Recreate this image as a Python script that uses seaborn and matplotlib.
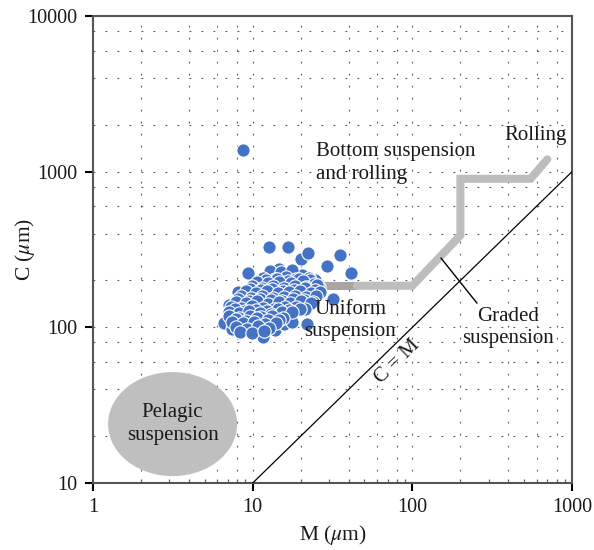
import numpy as np
import pandas as pd
import matplotlib
matplotlib.use("Agg")
import matplotlib.pyplot as plt
from matplotlib.ticker import LogLocator, NullLocator, FixedLocator, FixedFormatter
import seaborn as sns

# Grain-size samples: median (M) and one-percentile coarsest (C), in micrometres
m_um = [
    8.7, 12.6, 16.6, 20.0, 22.2, 29.0, 35.0, 41.0, 9.4, 8.1, 6.6, 11.6, 21.8, 32.0, 7.1, 24.5, 23.5,
    13.1, 15.3, 17.6, 14.6, 7.4, 13.8, 15.7, 17.6, 23.5, 26.0, 20.3,
    12.9, 15.1, 17.6,
    11.6, 13.8, 16.1, 18.8, 22.5,
    12.1, 14.2, 16.6, 19.5, 22.8,
    10.6, 12.5, 14.6, 17.3, 20.7, 24.1,
    9.9, 11.4, 13.4, 15.7, 18.4, 21.5, 25.2,
    9.6, 11.3, 13.2, 15.5, 18.1, 21.2, 24.5,
    9.1, 10.5, 12.3, 14.4, 16.8, 19.8, 23.1, 26.4,
    8.45, 9.75, 11.4, 13.4, 15.7, 18.4, 21.5, 24.9,
    8.1, 9.5, 11.1, 13.0, 15.3, 17.9, 21.0, 23.8,
    7.86, 9.1, 10.6, 12.5, 14.6, 17.1, 20.1, 23.1,
    7.3, 8.45, 9.9, 11.6, 13.6, 15.9, 18.7, 21.2,
    7.74, 8.95, 10.5, 12.3, 14.4, 16.8, 19.8,
    7.1, 8.2, 9.5, 11.1, 13.0, 15.3, 17.6,
    7.1, 8.2, 9.6, 11.3, 13.2, 15.5,
    7.86, 9.1, 10.6, 12.5, 14.6,
    7.4, 8.7, 10.2, 11.9, 14.0,
    7.86, 9.2, 10.8, 12.6,
    8.33, 9.9, 11.7,
]
c_um = [
    1370, 328, 330, 275, 300, 247, 290, 223, 223, 168, 107, 87, 105, 152, 139, 201, 170,
    228, 217, 228, 237, 98, 96, 105, 108, 153, 182, 217,
    231, 226, 233,
    209, 205, 210, 203, 207,
    201, 204, 199, 205, 200,
    196, 192, 197, 193, 198, 191,
    184, 180, 185, 179, 183, 181, 186,
    176, 173, 177, 172, 175, 178, 174,
    170, 167, 171, 166, 169, 172, 165, 168,
    158, 155, 159, 154, 157, 160, 156, 158,
    151, 148, 152, 149, 147, 151, 150, 146,
    146, 143, 147, 142, 145, 144, 147, 143,
    136, 133, 137, 134, 132, 136, 135, 131,
    131, 128, 130, 127, 131, 129, 132,
    126, 123, 127, 124, 122, 126, 125,
    118, 115, 119, 116, 118, 114,
    113, 110, 114, 111, 112,
    109, 106, 108, 105, 107,
    101, 98, 102, 99,
    94, 92, 95,
]

# Transport regimes traced as a CM path (M, C)
path_m = [25, 45, 100, 200, 200, 550, 700]
path_c = [185, 185, 185, 390, 900, 900, 1200]

x_ticks = [1, 10, 100, 1000]
y_ticks = [10, 100, 1000, 10000]

df = pd.DataFrame({"M": m_um, "C": c_um})

sns.set_theme(style="white")
plt.rcParams["font.family"] = ["Liberation Serif", "DejaVu Serif"]
plt.rcParams["mathtext.fontset"] = "stix"

fig = plt.figure(figsize=(5.94, 5.5), dpi=100)
ax = fig.add_axes([0.1566, 0.1218, 0.8064, 0.8491])
ax.set_xscale("log")
ax.set_yscale("log")
ax.set_xlim(1, 1000)
ax.set_ylim(10, 10000)

# dotted reference grid at 1, 2, 4, 6, 8 of each decade
grid_kw = dict(color="#555555", lw=0.8, ls=(0, (1.6, 9.2)), zorder=1)
for dec in [1, 10, 100]:
    for s in [1, 2, 4, 6, 8]:
        v = s * dec
        if 1 < v < 1000:
            ax.axvline(v, **grid_kw)
for dec in [10, 100, 1000]:
    for s in [1, 2, 4, 6, 8]:
        v = s * dec
        if 10 < v < 10000:
            ax.axhline(v, **grid_kw)

# pelagic suspension field (ellipse in log space)
t = np.linspace(0, 2 * np.pi, 300)
ex = 10 ** (np.log10(3.15) + 0.404 * np.cos(t))
ey = 10 ** (np.log10(23.9) + 0.334 * np.sin(t))
ax.fill(ex, ey, color="#BFBFBF", lw=0, zorder=2)

# C = M line
ax.plot([1, 1000], [1, 1000], color="black", lw=0.9, zorder=3)

# transport path
ax.plot(path_m[:2], path_c[:2], color="#A9A5A3", lw=5.8, solid_capstyle="butt", zorder=3)
ax.plot(path_m[1:], path_c[1:], color="#BDBDBD", lw=5.8, solid_capstyle="round",
        solid_joinstyle="miter", zorder=3)

# leader for graded suspension
ax.plot([151, 254], [279, 143], color="black", lw=1.0, zorder=4)

sns.scatterplot(data=df, x="M", y="C", s=92, color="#4472C4", edgecolor="white",
                linewidth=0.8, zorder=5, ax=ax)

fs = 15
tc = "#1a1a1a"
ax.text(24.9, 1135, "Bottom suspension\nand rolling", ha="left", va="center",
        fontsize=fs, linespacing=1.25, color=tc, zorder=6)
ax.text(929, 1718, "Rolling", ha="right", va="center", fontsize=fs, color=tc, zorder=6)
ax.text(40.7, 111, "Uniform\nsuspension", ha="center", va="center", fontsize=fs,
        linespacing=1.25, color=tc, zorder=6)
ax.text(397, 100, "Graded\nsuspension", ha="center", va="center", fontsize=fs,
        linespacing=1.25, color=tc, zorder=6)
ax.text(81, 60, "C = M", rotation=44.3, ha="center", va="center", fontsize=fs,
        rotation_mode="anchor", color=tc, zorder=6)
ax.text(3.15, 23.9, "Pelagic\nsuspension", ha="center", va="center", fontsize=fs,
        linespacing=1.25, color=tc, zorder=6)

ax.xaxis.set_major_locator(FixedLocator(x_ticks))
ax.xaxis.set_major_formatter(FixedFormatter([str(v) for v in x_ticks]))
ax.yaxis.set_major_locator(FixedLocator(y_ticks))
ax.yaxis.set_major_formatter(FixedFormatter([str(v) for v in y_ticks]))
ax.xaxis.set_minor_locator(LogLocator(base=10, subs=np.arange(2, 10)))
ax.yaxis.set_minor_locator(NullLocator())

ax.tick_params(axis="both", which="major", direction="out", length=6, width=1.5,
               color="black", labelsize=14.5, labelcolor=tc, pad=5,
               bottom=True, left=True)
ax.tick_params(axis="x", which="minor", direction="in", length=3, width=0.8,
               color="#555555", bottom=True)

for sp in ax.spines.values():
    sp.set_color("#555555")
    sp.set_linewidth(1.5)
    sp.set_visible(True)

ax.set_xlabel(r"M ($\mu$m)", fontsize=15.5, color=tc, labelpad=4)
ax.set_ylabel(r"C ($\mu$m)", fontsize=15.5, color=tc)
ax.yaxis.set_label_coords(-0.117, 0.5)

fig.savefig("out.png", dpi=100)
